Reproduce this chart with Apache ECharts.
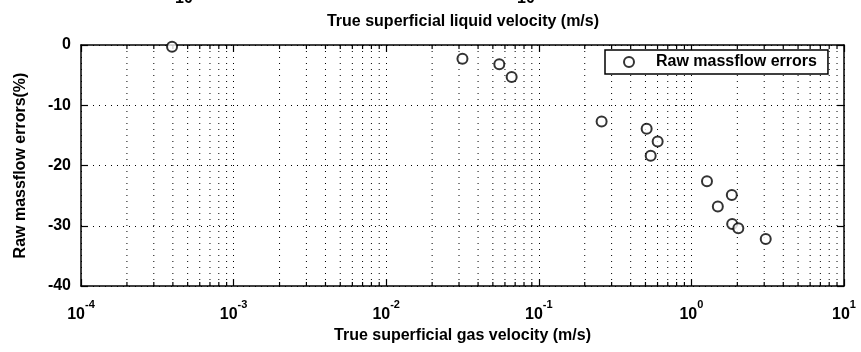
<!DOCTYPE html>
<html>
<head>
<meta charset="utf-8">
<title>Raw massflow errors vs gas velocity</title>
<script src="https://cdn.jsdelivr.net/npm/echarts@6/dist/echarts.min.js"></script>
<style>
  html, body { margin: 0; padding: 0; background: #fff; }
  #chart { width: 861px; height: 352px; }
</style>
</head>
<body>
<div id="chart"></div>
<script>
// Measured points: true superficial gas velocity (m/s) and raw massflow error (%)
const gasVelocity = [0.000395, 0.0316, 0.0551, 0.0664, 0.258, 0.509, 0.601, 0.541, 1.265, 1.84, 1.49, 1.85, 2.03, 3.07];
const massflowError = [-0.3, -2.3, -3.2, -5.3, -12.7, -13.9, -16.0, -18.4, -22.6, -24.9, -26.8, -29.7, -30.4, -32.2];

// Axis ranges and the per-decade minor multipliers of the log axis
const xRange = [1e-4, 10];
const yRange = [-40, 0];
const yStep = 10;
const minorDecades = [-4, -3, -2, -1, 0];
const minorMultipliers = [2, 3, 4, 5, 6, 7, 8, 9];

const seriesName = 'Raw massflow errors';
const xTitle = 'True superficial gas velocity (m/s)';
const yTitle = 'Raw massflow errors(%)';
const upperTitle = 'True superficial liquid velocity (m/s)';
const upperTickText = ['10', '10'];

const FONT = '"Liberation Sans", Arial, Helvetica, sans-serif';

const minorValues = [];
minorDecades.forEach(function (d) {
  minorMultipliers.forEach(function (m) { minorValues.push([m * Math.pow(10, d)]); });
});

const points = gasVelocity.map(function (v, i) { return [v, massflowError[i]]; });

const dotted = { color: '#000', width: 1, type: [1, 5] };

function powLabel(v) {
  const e = Math.round(Math.log10(v));
  return '{b|10}{e|' + e + '}';
}

// base "10" fills a tall line box; the exponent sits at the top of it
const richLabel = {
  b: { fontFamily: FONT, fontWeight: 'bold', fontSize: 16, color: '#000', lineHeight: 24, verticalAlign: 'bottom' },
  e: { fontFamily: FONT, fontWeight: 'bold', fontSize: 11, color: '#000', lineHeight: 12, verticalAlign: 'top' }
};

const chart = echarts.init(document.getElementById('chart'), null, { renderer: 'canvas' });

chart.setOption({
  animation: false,
  backgroundColor: '#fff',
  grid: { left: 81, right: 17, top: 45, bottom: 66, containLabel: false },
  legend: {
    data: [seriesName],
    left: 605,
    top: 50,
    orient: 'horizontal',
    itemWidth: 10,
    itemHeight: 10,
    padding: [4, 11, 4, 18],
    backgroundColor: '#fff',
    borderColor: '#000',
    borderWidth: 1.5,
    borderRadius: 0,
    textStyle: { fontFamily: FONT, fontWeight: 'bold', fontSize: 16, color: '#000', padding: [0, 0, 0, 17] }
  },
  xAxis: [
    {
      type: 'log', logBase: 10, min: xRange[0], max: xRange[1], splitNumber: 5,
      position: 'bottom',
      name: xTitle, nameLocation: 'middle', nameGap: 39,
      nameTextStyle: { fontFamily: FONT, fontWeight: 'bold', fontSize: 16, color: '#000' },
      axisLine: { onZero: false, lineStyle: { color: '#000', width: 1.5 } },
      axisTick: { inside: true, length: 7, lineStyle: { color: '#000', width: 1.2 } },
      axisLabel: { margin: 13, formatter: powLabel, rich: richLabel },
      splitLine: { show: true, lineStyle: dotted }
    },
    {
      type: 'log', logBase: 10, min: xRange[0], max: xRange[1], splitNumber: 5,
      position: 'top',
      axisLine: { onZero: false, lineStyle: { color: '#000', width: 1.5 } },
      axisTick: { inside: true, length: 7, lineStyle: { color: '#000', width: 1.2 } },
      axisLabel: { show: false },
      splitLine: { show: false }
    }
  ],
  yAxis: [
    {
      type: 'value', min: yRange[0], max: yRange[1], interval: yStep,
      position: 'left',
      name: yTitle, nameLocation: 'middle', nameGap: 52,
      nameTextStyle: { fontFamily: FONT, fontWeight: 'bold', fontSize: 16, color: '#000' },
      axisLine: { show: true, onZero: false, lineStyle: { color: '#000', width: 1.5 } },
      axisTick: { show: true, inside: true, length: 7, lineStyle: { color: '#000', width: 1.2 } },
      axisLabel: { margin: 10, fontFamily: FONT, fontWeight: 'bold', fontSize: 16, color: '#000' },
      splitLine: { show: true, lineStyle: dotted }
    },
    {
      type: 'value', min: yRange[0], max: yRange[1], interval: yStep,
      position: 'right',
      axisLine: { show: true, onZero: false, lineStyle: { color: '#000', width: 1.5 } },
      axisTick: { show: true, inside: true, length: 7, lineStyle: { color: '#000', width: 1.2 } },
      axisLabel: { show: false },
      splitLine: { show: false }
    }
  ],
  graphic: [
    { type: 'text', left: 185 - 10, top: -9, style: { text: upperTickText[0], fontFamily: FONT, fontWeight: 'bold', fontSize: 16, fill: '#000' } },
    { type: 'text', left: 527 - 10, top: -9, style: { text: upperTickText[1], fontFamily: FONT, fontWeight: 'bold', fontSize: 16, fill: '#000' } },
    { type: 'text', x: 463, y: 22, style: { text: upperTitle, fontFamily: FONT, fontWeight: 'bold', fontSize: 16, fill: '#000', align: 'center', verticalAlign: 'middle' } }
  ],
  series: [
    {
      // minor decade grid lines with their inward ticks on bottom and top axes
      type: 'custom',
      xAxisIndex: 0, yAxisIndex: 0,
      silent: true,
      z: 1,
      data: minorValues,
      renderItem: function (params, api) {
        const x = api.value(0);
        const top = api.coord([x, yRange[1]]);
        const bot = api.coord([x, yRange[0]]);
        return {
          type: 'group',
          children: [
            { type: 'line', shape: { x1: top[0], y1: top[1], x2: bot[0], y2: bot[1] }, style: { stroke: '#000', lineWidth: 1, lineDash: [1, 5] } },
            { type: 'line', shape: { x1: bot[0], y1: bot[1], x2: bot[0], y2: bot[1] - 4 }, style: { stroke: '#000', lineWidth: 1.2 } },
            { type: 'line', shape: { x1: top[0], y1: top[1], x2: top[0], y2: top[1] + 4 }, style: { stroke: '#000', lineWidth: 1.2 } }
          ]
        };
      }
    },
    {
      name: seriesName,
      type: 'scatter',
      xAxisIndex: 0, yAxisIndex: 0,
      z: 5,
      symbol: 'emptyCircle',
      symbolSize: 10,
      itemStyle: { color: '#000', borderColor: '#000', borderWidth: 1 },
      data: points
    }
  ]
});
</script>
</body>
</html>
